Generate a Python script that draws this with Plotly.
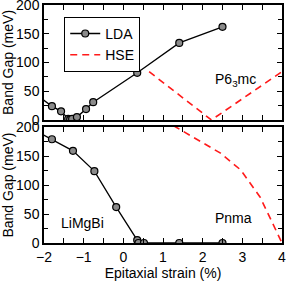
import plotly.graph_objects as go

# Top panel (P6_3mc)
lda_top_x = [-2.3, -1.8, -1.57, -1.39, -1.34, -1.29, -1.17, -0.94, -0.76, 0.35, 1.41, 2.5]
lda_top_y = [49, 24, 15, 2, 1, 2, 5, 19, 31, 82, 134, 162]
hse_top_x = [0.65, 2.22, 4.0]
hse_top_y = [84, 0, 84]

# Bottom panel (Pnma)
lda_bot_x = [-2.3, -1.8, -1.27, -0.73, -0.18, 0.35, 0.38, 0.52, 1.41, 2.5]
lda_bot_y = [197, 179, 159, 124, 62, 5, 0, 0, 0, 0]
hse_bot_x = [1.0, 2.45, 2.96, 3.45, 4.0]
hse_bot_y = [213, 155, 126, 79, 0]

x_ticks = [-2, -1, 0, 1, 2, 3, 4]
y_ticks = [0, 50, 100, 150, 200]

FONT = "Liberation Sans, Arial, sans-serif"
FS = 14

fig = go.Figure()

marker = dict(size=7, color="#8a8a8a", line=dict(color="black", width=1.2))

fig.add_trace(go.Scatter(x=lda_top_x, y=lda_top_y, mode="lines+markers", name="LDA",
                         line=dict(color="black", width=1.3), marker=marker,
                         xaxis="x", yaxis="y"))
fig.add_trace(go.Scatter(x=hse_top_x, y=hse_top_y, mode="lines", name="HSE",
                         line=dict(color="#ff1a1a", width=1.6, dash="7px,5px"),
                         xaxis="x", yaxis="y"))
fig.add_trace(go.Scatter(x=lda_bot_x, y=lda_bot_y, mode="lines+markers", showlegend=False,
                         line=dict(color="black", width=1.3), marker=marker,
                         xaxis="x2", yaxis="y2"))
fig.add_trace(go.Scatter(x=hse_bot_x, y=hse_bot_y, mode="lines", showlegend=False,
                         line=dict(color="#ff1a1a", width=1.6, dash="7px,5px"),
                         xaxis="x2", yaxis="y2"))

axis_common = dict(showline=True, linecolor="black", linewidth=1.5, mirror="ticks",
                   ticks="inside", ticklen=5, tickwidth=1.2, tickcolor="black",
                   showgrid=False, zeroline=False, automargin=False,
                   ticklabeloverflow="allow",
                   tickfont=dict(family=FONT, size=FS, color="black"))

fig.update_layout(
    width=286, height=281,
    margin=dict(l=44, r=4, t=5, b=38),
    paper_bgcolor="white", plot_bgcolor="white",
    font=dict(family=FONT, size=FS, color="black"),
    showlegend=True,
    legend=dict(x=0.085, y=0.95, xanchor="left", yanchor="top",
                bordercolor="black", borderwidth=1, bgcolor="white",
                font=dict(family=FONT, size=FS), tracegroupgap=0,
                itemwidth=30),
    xaxis=dict(domain=[0, 1], range=[-2, 4], anchor="y", tickvals=x_ticks, showticklabels=False,
               minor=dict(dtick=0.5, tick0=0, ticks="inside", ticklen=5, tickcolor="black"),
               **axis_common),
    yaxis=dict(domain=[0.517, 1], range=[0, 200], anchor="x", tickvals=y_ticks,
               minor=dict(dtick=25, tick0=0, ticks="inside", ticklen=4, tickcolor="black"),
               title=dict(text="Band Gap (meV)", font=dict(family=FONT, size=FS), standoff=2),
               **axis_common),
    xaxis2=dict(domain=[0, 1], range=[-2, 4], anchor="y2", tickvals=x_ticks,
                minor=dict(dtick=0.5, tick0=0, ticks="inside", ticklen=5, tickcolor="black"),
                title=dict(text="Epitaxial strain (%)", font=dict(family=FONT, size=FS), standoff=2),
                **axis_common),
    yaxis2=dict(domain=[0, 0.487], range=[0, 200], anchor="x2", tickvals=y_ticks,
                minor=dict(dtick=25, tick0=0, ticks="inside", ticklen=4, tickcolor="black"),
                title=dict(text="Band Gap (meV)", font=dict(family=FONT, size=FS), standoff=2),
                **axis_common),
    annotations=[
        dict(text="P6<sub>3</sub>mc", x=2.83, y=70, xref="x", yref="y", showarrow=False,
             font=dict(family=FONT, size=FS)),
        dict(text="LiMgBi", x=-1.04, y=34, xref="x2", yref="y2", showarrow=False,
             font=dict(family=FONT, size=FS)),
        dict(text="Pnma", x=2.77, y=43, xref="x2", yref="y2", showarrow=False,
             font=dict(family=FONT, size=FS)),
    ],
)

fig.write_html("out.html", config={"displayModeBar": False},
               post_script="document.body.style.margin='0';document.body.style.overflow='hidden';")
